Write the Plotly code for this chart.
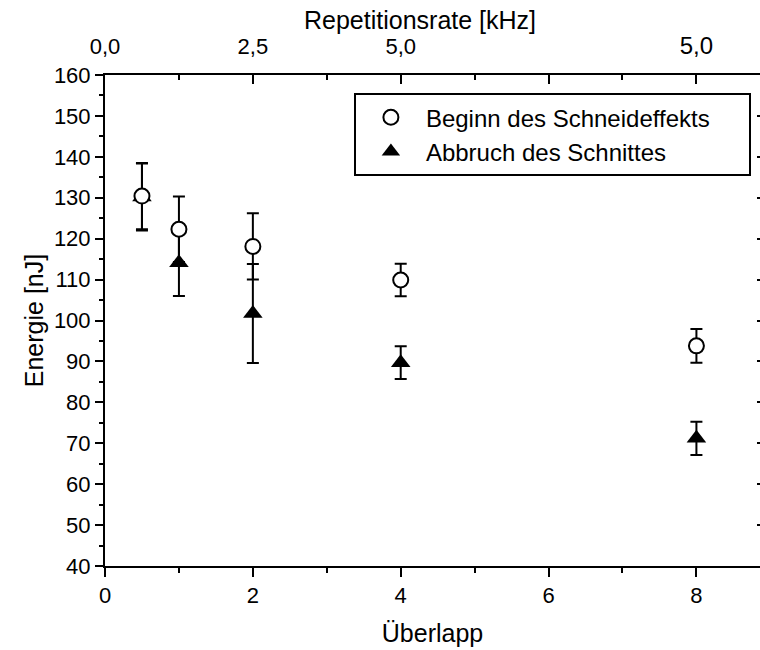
import plotly.graph_objects as go

# Data
overlap = [0.5, 1, 2, 4, 8]
begin_energy = [130.4, 122.3, 118.1, 109.9, 93.8]
begin_err = [8.1, 8.0, 8.1, 4.0, 4.1]
abort_energy = [130.2, 114.1, 101.7, 89.7, 71.2]
abort_err = [8.2, 8.1, 12.1, 4.0, 4.05]

top_tickvals = [0, 2, 4, 6, 8]
top_ticktext = ["0,0", "2,5", "5,0", "", "<span style='font-size:24px'>5,0</span>"]
y_ticks = list(range(40, 161, 10))

FONT = "Liberation Sans, Arial, sans-serif"
XMAX = 8.86
NB = "\u00a0"

fig = go.Figure()

fig.add_trace(go.Scatter(
    x=overlap, y=abort_energy, mode="markers", name="Abbruch des Schnittes",
    marker=dict(symbol="triangle-up", size=17, color="black", line=dict(width=0)),
    error_y=dict(type="data", array=abort_err, visible=True, color="black", thickness=2, width=6),
))
fig.add_trace(go.Scatter(
    x=overlap, y=begin_energy, mode="markers", name="Beginn des Schneideffekts" + NB * 5,
    marker=dict(symbol="circle", size=15, color="white", line=dict(width=2, color="black")),
    error_y=dict(type="data", array=begin_err, visible=True, color="black", thickness=2, width=6),
))
# invisible trace to activate secondary axes
fig.add_trace(go.Scatter(
    x=overlap, y=begin_energy, xaxis="x2", yaxis="y2", mode="markers",
    marker=dict(opacity=0), showlegend=False, hoverinfo="skip",
))

fig.update_layout(
    width=760, height=650, autosize=False,
    margin=dict(l=105, r=0, t=75, b=84),
    paper_bgcolor="white", plot_bgcolor="white",
    font=dict(family=FONT, size=22, color="black"),
    showlegend=True,
    legend=dict(
        x=0.380, y=0.963, xanchor="left", yanchor="top",
        bordercolor="black", borderwidth=2, bgcolor="white",
        traceorder="reversed", font=dict(size=24), itemwidth=60,
        tracegroupgap=0,
    ),
    xaxis=dict(
        range=[0, XMAX], showgrid=False, zeroline=False,
        showline=True, linecolor="black", linewidth=2,
        ticks="outside", ticklen=9, tickwidth=2, tickcolor="black",
        tickvals=[0, 2, 4, 6, 8],
        minor=dict(ticks="outside", ticklen=5, tickwidth=2, tickcolor="black", dtick=1, tick0=0, showgrid=False),
        title=dict(text="Überlapp", font=dict(size=25), standoff=17),
        tickfont=dict(size=22),
    ),
    xaxis2=dict(
        range=[0, XMAX], overlaying="x", side="top", anchor="y",
        showgrid=False, zeroline=False,
        showline=True, linecolor="black", linewidth=2,
        ticks="inside", ticklen=9, tickwidth=2, tickcolor="black",
        tickvals=top_tickvals, ticktext=top_ticktext,
        ticklabelstandoff=10,
        minor=dict(ticks="inside", ticklen=5, tickwidth=2, tickcolor="black", dtick=1, tick0=0, showgrid=False),
        tickfont=dict(size=22),
    ),
    yaxis=dict(
        range=[40, 160], showgrid=False, zeroline=False,
        showline=True, linecolor="black", linewidth=2,
        ticks="outside", ticklen=8, tickwidth=2, tickcolor="black",
        tickvals=y_ticks,
        minor=dict(ticks="outside", ticklen=4, tickwidth=2, tickcolor="black", dtick=5, tick0=0, showgrid=False),
        title=dict(text="Energie [nJ]", font=dict(size=25), standoff=3),
        tickfont=dict(size=22),
    ),
    yaxis2=dict(
        range=[40, 160], overlaying="y", side="right", anchor="x",
        showgrid=False, zeroline=False, showline=False,
        ticks="inside", ticklen=3, tickwidth=2, tickcolor="black",
        tickvals=y_ticks, showticklabels=False,
    ),
    annotations=[dict(
        text="Repetitionsrate [kHz]", xref="paper", yref="paper",
        x=0.481, y=1.112, xanchor="center", yanchor="middle",
        showarrow=False, font=dict(size=25, family=FONT, color="black"),
    )],
)

fig.write_html("out.html")
